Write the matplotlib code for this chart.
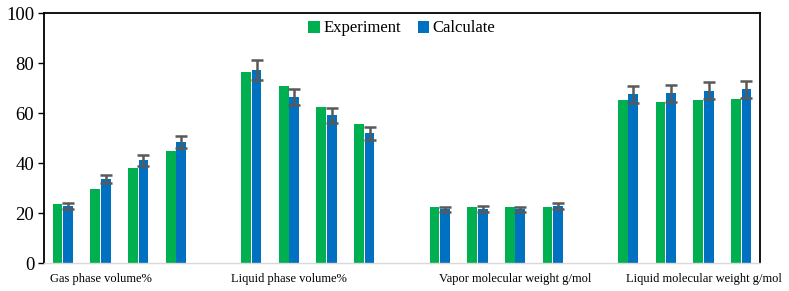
import numpy as np
import matplotlib.pyplot as plt

plt.rcParams['font.family'] = ['Liberation Serif', 'DejaVu Serif']

# 19 category slots in the original Excel chart; empty slots separate groups
group_names = ["Gas phase volume%", "Liquid phase volume%",
               "Vapor molecular weight g/mol", "Liquid molecular weight g/mol"]
group_start = [0, 5, 10, 15]
label_slot = [1, 6, 12, 17]

experiment = [23.7, 29.6, 38.0, 44.8,
              76.5, 70.8, 62.3, 55.5,
              22.3, 22.5, 22.4, 22.5,
              65.2, 64.5, 65.2, 65.6]
calculate = [22.8, 33.6, 41.1, 48.3,
             77.2, 66.4, 59.1, 51.9,
             21.5, 21.6, 21.5, 22.8,
             67.5, 68.0, 68.9, 69.5]
calc_err = [1.1, 1.7, 2.1, 2.4,
            3.9, 3.3, 3.0, 2.6,
            1.1, 1.1, 1.1, 1.1,
            3.4, 3.4, 3.4, 3.5]

slots = np.array([s + k for s in group_start for k in range(4)])

green = "#00b050"
blue = "#0070c0"
w = 0.26

fig = plt.figure(figsize=(7.89, 2.91), dpi=100)
ax = fig.add_axes([44/789, 1-263/291, (760-44)/789, (263-13)/291])

ax.bar(slots - w/2 - 0.01, experiment, width=w, color=green, label="Experiment")
ax.bar(slots + w/2 + 0.01, calculate, width=w, color=blue, label="Calculate")
ax.errorbar(slots + w/2 + 0.01, calculate, yerr=calc_err, fmt='none',
            ecolor="#595959", elinewidth=1.8, capsize=4, capthick=1.8)

ax.set_xlim(-0.5, 18.5)
ax.set_ylim(0, 100)
ax.set_yticks(range(0, 101, 20))
ax.tick_params(axis='y', labelsize=13.5, length=4, width=1, direction='out', pad=3)
ax.set_xticks([])

for name, s in zip(group_names, label_slot):
    ax.text(s, -4, name, ha='center', va='top', fontsize=9,
            transform=ax.transData)

for side in ['left', 'top', 'right']:
    ax.spines[side].set_color('black')
    ax.spines[side].set_linewidth(1.3)
ax.spines['bottom'].set_color('#d9d9d9')
ax.spines['bottom'].set_linewidth(1.0)

ax.legend(loc='upper center', bbox_to_anchor=(0.5, 1.01), ncol=2, frameon=False,
          fontsize=12, handlelength=0.7, handleheight=0.7, handletextpad=0.2,
          columnspacing=1.0, borderaxespad=0.2)

fig.savefig("out.png", dpi=100)
